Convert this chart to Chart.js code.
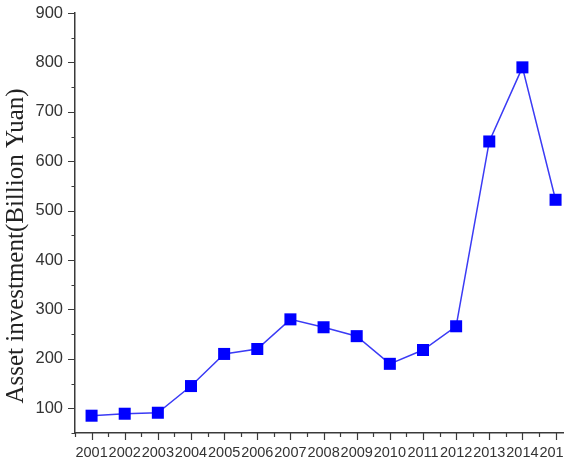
<!DOCTYPE html>
<html>
<head>
<meta charset="utf-8">
<script src="https://cdn.jsdelivr.net/npm/chart.js@4.4.1/dist/chart.umd.min.js"></script>
<style>
  html, body { margin: 0; padding: 0; background: #fff; overflow: hidden; }
  /* a bit wider than the window: the point overflow padding on the right falls outside the shot */
  #wrap { width: 574px; height: 470px; }
</style>
</head>
<body>
<div id="wrap"><canvas id="line"></canvas></div>
<script>
(function () {
  // data
  const years = [2001, 2002, 2003, 2004, 2005, 2006, 2007, 2008, 2009, 2010, 2011, 2012, 2013, 2014, 2015];
  const investment = [85, 89, 91, 145, 210, 220, 280, 264, 246, 190, 218, 266, 640, 790, 522];
  const yTicks = [100, 200, 300, 400, 500, 600, 700, 800, 900];
  const yTitle = 'Asset investment(Billion Yuan)';

  const axisColor = '#3a3a3a';

  // major / minor tick marks, drawn outward like the original plot
  const tickMarks = {
    id: 'tickMarks',
    afterDraw(chart) {
      const ctx = chart.ctx;
      const x = chart.scales.x, y = chart.scales.y;
      ctx.save();
      ctx.strokeStyle = axisColor;
      ctx.lineWidth = 1.2;
      ctx.beginPath();
      for (let v = 50; v <= 900; v += 50) {
        const py = Math.round(y.getPixelForValue(v)) + 0.5;
        const len = v % 100 === 0 ? 7 : 3.5;
        ctx.moveTo(x.left - len, py);
        ctx.lineTo(x.left, py);
      }
      for (let v = 2000.5; v <= 2015.3; v += 0.5) {
        const px = Math.round(x.getPixelForValue(v)) + 0.5;
        const len = Number.isInteger(v) ? 7 : 4;
        ctx.moveTo(px, y.bottom);
        ctx.lineTo(px, y.bottom + len);
      }
      ctx.stroke();

      // axis title
      ctx.fillStyle = '#222';
      ctx.font = '25px "Liberation Serif", "Times New Roman", serif';
      ctx.textAlign = 'center';
      ctx.textBaseline = 'middle';
      ctx.translate(16, 246);
      ctx.rotate(-Math.PI / 2);
      ctx.fillText(yTitle, 0, 0);
      ctx.restore();
    }
  };

  new Chart(document.getElementById('line'), {
    type: 'line',
    data: {
      datasets: [
        {
          label: 'investment',
          data: years.map((yr, i) => ({ x: yr, y: investment[i] })),
          borderColor: '#3b3bf5',
          borderWidth: 1.5,
          backgroundColor: '#0000ff',
          pointStyle: 'rect',
          pointRadius: 8.5,
          pointBorderWidth: 0,
          pointBackgroundColor: '#0000ff',
          tension: 0,
          clip: false,
        },
      ],
    },
    options: {
      animation: false,
      responsive: true,
      maintainAspectRatio: false,
      layout: { padding: { top: 13, right: 0, bottom: 0, left: 0 } },
      plugins: {
        legend: { display: false },
        tooltip: { enabled: false },
      },
      scales: {
        x: {
          type: 'linear',
          min: 2000.5,
          max: 2015.3,
          grid: { display: false, drawTicks: false },
          border: { display: true, color: axisColor, width: 1.5 },
          ticks: {
            autoSkip: false,
            maxRotation: 0,
            padding: 11,
            color: '#333',
            font: { family: '"Liberation Sans", Arial, sans-serif', size: 14.5 },
            callback: v => String(v),
          },
          afterBuildTicks: scale => {
            scale.ticks = years.map(v => ({ value: v }));
          },
          afterFit: scale => {
            scale.height = 37;
            scale.paddingLeft = 0;
            scale.paddingRight = 0;
          },
        },
        y: {
          min: 50,
          max: 900,
          grid: { display: false, drawTicks: false },
          border: { display: true, color: axisColor, width: 1.5 },
          ticks: {
            padding: 12,
            color: '#333',
            font: { family: '"Liberation Sans", Arial, sans-serif', size: 16.5 },
          },
          afterBuildTicks: scale => {
            scale.ticks = yTicks.map(v => ({ value: v }));
          },
          afterFit: scale => {
            scale.width = 75;
            scale.paddingTop = 0;
            scale.paddingBottom = 0;
          },
        },
      },
    },
    plugins: [tickMarks],
  });
})();
</script>
</body>
</html>
